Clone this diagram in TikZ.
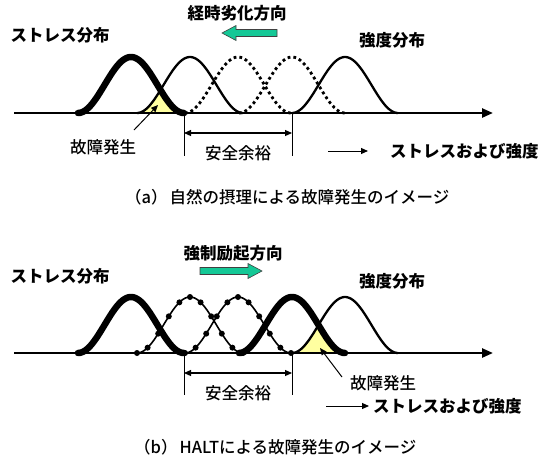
\documentclass[tikz,border=0pt]{standalone}
\usepackage{fontspec}
\setmainfont{Noto Sans CJK JP}
\newfontfamily\medfont{Noto Sans CJK JP}[UprightFont=* Medium]
\usetikzlibrary{arrows.meta}
\definecolor{grn}{RGB}{20,200,150}
\definecolor{yel}{RGB}{255,255,160}
\newcommand\bellcurve[3]{\draw[#1] plot[domain=-1:1,samples=60] ({#2+53*\x},{#3-28*(1+cos(180*\x))});}
\newcommand\belldots[2]{\foreach \t in {-1,-0.8,-0.6,-0.4,-0.2,0,0.2,0.4,0.6,0.8,1}{\fill ({#1+53*\t},{#2-28*(1+cos(180*\t))}) circle (3);}}
\begin{document}
\begin{tikzpicture}[x=1pt,y=-1pt,
  lbl/.style={font=\fontsize{16.5}{18}\selectfont\bfseries, inner sep=0pt},
  txt/.style={font=\fontsize{16.5}{18}\selectfont\medfont, inner sep=0pt},
  axisline/.style={line width=2.4pt, -{Triangle[length=11pt,width=9pt]}},
  thickcurve/.style={line width=6.5pt, line cap=round, line join=round},
  thincurve/.style={line width=2.3pt},
  markcurve/.style={line width=1.6pt},
  dotcurve/.style={line width=2.8pt, dash pattern=on 2.8pt off 3pt},
  dimline/.style={line width=0.9pt},
  dimarrow/.style={line width=1.1pt, {Triangle[length=7pt,width=6pt]}-{Triangle[length=7pt,width=6pt]}},
  ptr/.style={line width=1pt, -{Triangle[length=7pt,width=6pt]}},
  bigarrow/.style={fill=grn, draw=black!75, line width=0.6pt},
]
\useasboundingbox (0,0) rectangle (546,464);

% ================= (a) =================
\node[lbl] (sa) at (60,35) {ストレス分布};
\node[lbl] (ka) at (392,40) {強度分布};
\node[lbl] (da) at (237,13) {経時劣化方向};
\draw[bigarrow] (222,33) -- (236,25.5) -- (236,29.5) -- (277,29.5) -- (277,36.5) -- (236,36.5) -- (236,40.5) -- cycle;

\fill[yel] plot[domain=-1:-0.5566,samples=30] ({190+53*\x},{113-28*(1+cos(180*\x))})
   -- plot[domain=0.5566:1,samples=30] ({131+53*\x},{113-28*(1+cos(180*\x))}) -- cycle;
\bellcurve{dotcurve}{238}{113}
\bellcurve{dotcurve}{292}{113}
\bellcurve{thincurve}{190}{113}
\bellcurve{thincurve}{345}{113}
\bellcurve{thickcurve}{131}{113}

\coordinate (a0) at (14,113);
\coordinate (a1) at (493,113);
\draw[axisline] (a0) -- (a1);

\coordinate (va1) at (184,113); \coordinate (va1b) at (184,156);
\coordinate (va2) at (292,113); \coordinate (va2b) at (292,156);
\draw[dimline] (va1) -- (va1b);
\draw[dimline] (va2) -- (va2b);
\coordinate (ma1) at (184,133); \coordinate (ma2) at (292,133);
\draw[dimarrow] (ma1) -- (ma2);
\node[txt] (ya) at (238,153) {安全余裕};

\node[txt] (fa) at (103,147) {故障発生};
\coordinate (pa0) at (134,130); \coordinate (pa1) at (158,105);
\draw[ptr] (pa0) -- (pa1);

\coordinate (xa0) at (328,151); \coordinate (xa1) at (368,151);
\draw[ptr] (xa0) -- (xa1);
\node[lbl, anchor=west] (xa) at (390,151) {ストレスおよび強度};

\node[txt, anchor=west] (capa) at (125,197) {（a）\hspace{2pt}自然の摂理による故障発生のイメージ};

% ================= (b) =================
\node[lbl] (sb) at (60,276) {ストレス分布};
\node[lbl] (kb) at (392,281) {強度分布};
\node[lbl] (db) at (233,253) {強制励起方向};
\draw[bigarrow] (262,271) -- (248,263.5) -- (248,267.5) -- (200,267.5) -- (200,274.5) -- (248,274.5) -- (248,278.5) -- cycle;

\fill[yel] plot[domain=-1:-0.5,samples=30] ({345+53*\x},{353-28*(1+cos(180*\x))})
   -- plot[domain=0.5:1,samples=30] ({292+53*\x},{353-28*(1+cos(180*\x))}) -- cycle;
\bellcurve{thincurve}{345}{353}
\bellcurve{markcurve}{190}{353}
\belldots{190}{353}
\bellcurve{markcurve}{238}{353}
\belldots{238}{353}
\bellcurve{thickcurve}{131}{353}
\bellcurve{thickcurve}{292}{353}

\coordinate (b0) at (14,353);
\coordinate (b1) at (493,353);
\draw[axisline] (b0) -- (b1);

\coordinate (vb1) at (184,353); \coordinate (vb1b) at (184,395);
\coordinate (vb2) at (292,353); \coordinate (vb2b) at (292,395);
\draw[dimline] (vb1) -- (vb1b);
\draw[dimline] (vb2) -- (vb2b);
\coordinate (mb1) at (184,373); \coordinate (mb2) at (292,373);
\draw[dimarrow] (mb1) -- (mb2);
\node[txt] (yb) at (238,393) {安全余裕};

\node[txt] (fb) at (383,383) {故障発生};
\coordinate (pb0) at (342,377); \coordinate (pb1) at (320,348);
\draw[ptr] (pb0) -- (pb1);

\coordinate (xb0) at (326,406); \coordinate (xb1) at (369,406);
\draw[ptr] (xb0) -- (xb1);
\node[lbl, anchor=west] (xb) at (373,406) {ストレスおよび強度};

\node[txt, anchor=west] (capb) at (134,447) {（b）\hspace{2pt}HALTによる故障発生のイメージ};
\end{tikzpicture}
\end{document}
